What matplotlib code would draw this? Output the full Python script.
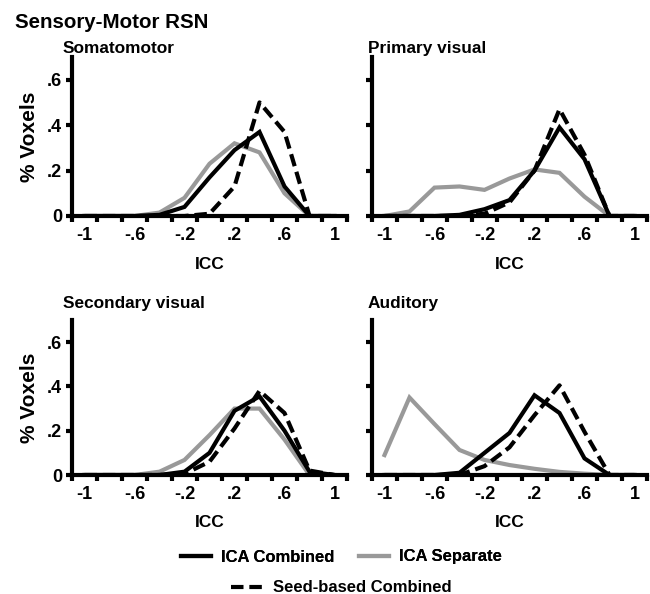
import numpy as np
import matplotlib
matplotlib.use("Agg")
import matplotlib.pyplot as plt

# ICC bin centres (x axis)
ICC_BINS = [-1.0, -0.8, -0.6, -0.4, -0.2, 0.0, 0.2, 0.4, 0.6, 0.8, 1.0]

# % voxels per bin
SOMA_COMBINED = [0, 0, 0, 0.005, 0.04, 0.17, 0.29, 0.37, 0.13, 0.0, 0.0]
SOMA_SEPARATE = [0, 0, 0, 0.015, 0.08, 0.23, 0.32, 0.28, 0.10, 0.0, 0.0]
SOMA_SEED = [0, 0, 0, 0, 0, 0.01, 0.13, 0.50, 0.37, 0.0, 0.0]

PRIM_COMBINED = [0, 0, 0, 0.005, 0.03, 0.07, 0.20, 0.39, 0.25, 0.0, 0.0]
PRIM_SEPARATE = [0, 0.02, 0.125, 0.13, 0.115, 0.165, 0.205, 0.19, 0.085, 0.0, 0.0]
PRIM_SEED = [0, 0, 0, 0, 0.01, 0.06, 0.20, 0.47, 0.27, 0.0, 0.0]

SEC_COMBINED = [0, 0, 0, 0, 0.015, 0.10, 0.29, 0.355, 0.20, 0.015, 0.0]
SEC_SEPARATE = [0, 0, 0, 0.015, 0.068, 0.18, 0.30, 0.30, 0.16, 0.0, 0.0]
SEC_SEED = [0, 0, 0, 0, 0.005, 0.06, 0.21, 0.38, 0.28, 0.02, 0.0]

AUD_COMBINED = [0, 0, 0, 0.01, 0.10, 0.19, 0.36, 0.28, 0.075, 0.0, 0.0]
AUD_SEPARATE = [0.09, 0.35, 0.23, 0.113, 0.068, 0.045, 0.028, 0.014, 0.006, 0.0, 0.0]
AUD_SEED = [0, 0, 0, 0, 0.04, 0.125, 0.27, 0.405, 0.195, 0.0, 0.0]

PANEL_TITLES = ["Somatomotor", "Primary visual", "Secondary visual", "Auditory"]
PANEL_DATA = [
    (SOMA_COMBINED, SOMA_SEPARATE, SOMA_SEED),
    (PRIM_COMBINED, PRIM_SEPARATE, PRIM_SEED),
    (SEC_COMBINED, SEC_SEPARATE, SEC_SEED),
    (AUD_COMBINED, AUD_SEPARATE, AUD_SEED),
]
XTICK_LABELS = ["-1", "-.6", "-.2", ".2", ".6", "1"]
YTICK_LABELS = ["0", ".2", ".4", ".6"]
SERIES_NAMES = ["ICA Combined", "ICA Separate", "Seed-based Combined"]

plt.rcParams['font.family'] = ['Liberation Sans', 'DejaVu Sans']
plt.rcParams['font.weight'] = 'bold'

W, H = 650, 594
fig = plt.figure(figsize=(W / 100, H / 100), dpi=100)

# panel boxes in pixels: left, top(y of 0.7), right, bottom(y of 0)
boxes = [(72, 57, 347, 216), (372, 57, 647, 216),
         (72, 320, 347, 475), (372, 320, 647, 475)]
title_pos = [(63, 53), (368, 53), (63, 308), (368, 308)]

GRAY = '#999999'
LW = 3.0
handles = None
for i, (l, t, r, b) in enumerate(boxes):
    ax = fig.add_axes([l / W, 1 - b / H, (r - l) / W, (b - t) / H])
    comb, sep, seed = PANEL_DATA[i]
    h2, = ax.plot(ICC_BINS, sep, color=GRAY, lw=LW, solid_joinstyle='miter')
    h1, = ax.plot(ICC_BINS, comb, color='black', lw=LW, solid_joinstyle='miter')
    h3, = ax.plot(ICC_BINS, seed, color='black', lw=LW, dashes=(3.0, 1.4))
    if handles is None:
        handles = [h1, h2, h3]

    ax.set_xlim(-1.1, 1.1)
    ax.set_ylim(0, 0.7)
    for s in ['top', 'right']:
        ax.spines[s].set_visible(False)
    for s in ['left', 'bottom']:
        ax.spines[s].set_linewidth(3.0)

    ax.set_xticks([-1, -0.6, -0.2, 0.2, 0.6, 1])
    ax.set_xticklabels(XTICK_LABELS, fontsize=13, fontweight='bold')
    ax.set_xticks(np.arange(-1.1, 1.11, 0.2), minor=True)
    ax.tick_params(axis='x', which='major', length=0, pad=8)
    ax.tick_params(axis='x', which='minor', length=4, width=3.0, direction='out')

    ax.set_yticks([0, 0.2, 0.4, 0.6])
    ax.tick_params(axis='y', length=4, width=3.0, direction='out', pad=3)
    if i % 2 == 0:
        ax.set_yticklabels(YTICK_LABELS, fontsize=13, fontweight='bold')
        ax.set_ylabel("% Voxels", fontsize=15, fontweight='bold')
        ax.yaxis.set_label_coords(-0.12, 0.5)
    else:
        ax.set_yticklabels([])

    ax.set_xlabel("ICC", fontsize=12.5, fontweight='bold')
    ax.xaxis.set_label_coords(0.5, -0.26)

    tx, ty = title_pos[i]
    fig.text(tx / W, 1 - ty / H, PANEL_TITLES[i], fontsize=12.4,
             fontweight='bold', ha='left', va='baseline')

fig.text(15 / W, 1 - 28 / H, "Sensory-Motor RSN", fontsize=14.8,
         fontweight='bold', ha='left', va='baseline')

leg1 = fig.legend(handles[:2], SERIES_NAMES[:2], loc='center', ncol=2,
                  bbox_to_anchor=(0.525, 1 - 557 / H), frameon=False,
                  prop={'size': 12, 'weight': 'bold'}, handlelength=1.8,
                  handletextpad=0.6, columnspacing=1.5)
leg2 = fig.legend(handles[2:], SERIES_NAMES[2:], loc='center',
                  bbox_to_anchor=(0.525, 1 - 588 / H), frameon=False,
                  prop={'size': 12, 'weight': 'bold'}, handlelength=1.9,
                  handletextpad=0.6)
fig.add_artist(leg1)

fig.savefig("out.png", dpi=100)
